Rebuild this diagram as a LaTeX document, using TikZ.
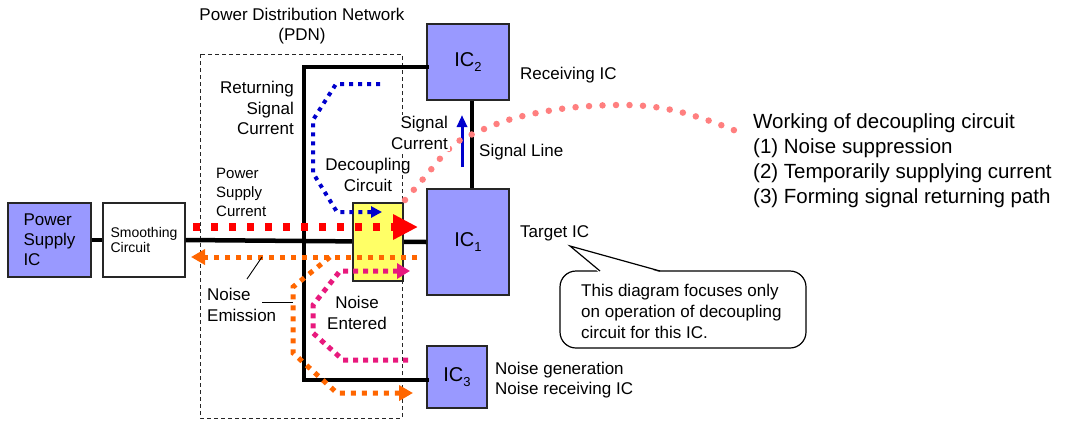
\documentclass[tikz,border=0pt]{standalone}
\usepackage{fontspec}
\setmainfont{Liberation Sans}
\usetikzlibrary{arrows.meta}
\definecolor{icblue}{HTML}{9999FF}
\definecolor{decyel}{HTML}{FFFF66}
\definecolor{sigblue}{HTML}{0000CC}
\definecolor{noiseor}{HTML}{FF6600}
\definecolor{noisemag}{HTML}{E8197D}
\definecolor{dotpink}{HTML}{FF7F7F}
\begin{document}
\begin{tikzpicture}[x=1pt,y=-1pt,
  icbox/.style={draw=black!85, line width=1.3pt, fill=icblue, inner sep=0pt},
  whitebox/.style={draw=black!85, line width=1.3pt, fill=white, inner sep=0pt},
  txt/.style={font=\fontsize{17}{20.5}\selectfont, inner sep=0pt},
  smalltxt/.style={font=\fontsize{15}{19}\selectfont, inner sep=0pt},
  ictxt/.style={font=\fontsize{20}{22}\selectfont},
  wire/.style={line width=4.5pt, black},
  pdn/.style={line width=0.8pt, dash pattern=on 4pt off 3pt, black!85},
  redflow/.style={line width=8pt, red, dash pattern=on 7pt off 11pt, -{Triangle[length=25pt,width=24pt]}},
  blueflow/.style={line width=4pt, sigblue, dash pattern=on 4pt off 5pt, -{Triangle[length=11pt,width=11pt]}},
  orflow/.style={line width=5pt, noiseor, dash pattern=on 5pt off 6pt, -{Triangle[length=14pt,width=15pt]}},
  magflow/.style={line width=5pt, noisemag, dash pattern=on 5pt off 5pt, -{Triangle[length=13pt,width=15pt]}},
  leader/.style={line width=0.9pt, black}]
\useasboundingbox (0,0) rectangle (1066,421);

% PDN dashed frame
\draw[pdn] (200,54) rectangle (402,418);

% boxes
\node[icbox, minimum width=83pt, minimum height=74pt, align=left, font=\fontsize{17}{20}\selectfont] (psic) at (49.5,240) {Power\\Supply\\IC};
\node[whitebox, minimum width=82pt, minimum height=74pt, align=left, font=\fontsize{14}{15.5}\selectfont] (smooth) at (144,240) {Smoothing\\Circuit};
\node[icbox, minimum width=82pt, minimum height=76pt, ictxt] (ic2) at (468,62) {IC\raisebox{-0.45ex}{\fontsize{13}{13}\selectfont 2}};
\node[icbox, minimum width=82pt, minimum height=106pt, ictxt] (ic1) at (468,242) {IC\raisebox{-0.45ex}{\fontsize{13}{13}\selectfont 1}};
\node[icbox, minimum width=60pt, minimum height=62pt, ictxt] (ic3) at (457,377) {IC\raisebox{-0.45ex}{\fontsize{13}{13}\selectfont 3}};

% wiring
\coordinate (tl) at (304,67);
\coordinate (bl) at (304,380);
\draw[wire] (psic.east) -- (smooth.west);
\draw[wire] (smooth.east) -- (ic1.west);
\draw[wire, line cap=rect] (tl -| ic2.west) -- (tl) -- (bl) -- (bl -| ic3.west);
\draw[line width=4pt] (ic2.south -| 472,0) -- (ic1.north -| 472,0);

% decoupling circuit
\node[draw=black!85, line width=1.3pt, fill=decyel, minimum width=50pt, minimum height=78pt, inner sep=0pt] (dec) at (378,242) {};

% flows
\draw[redflow] (193,227) -- (418,227);
\draw[blueflow] (380,84) -- (336,84) -- (313,120) -- (313,173) -- (337,212) -- (382,212);
\draw[orflow] (417,257) -- (191,257);
\draw[orflow] (330,257) -- (293,287) -- (293,353) -- (337,393) -- (413,393);
\draw[magflow] (408,360) -- (343,360) -- (313,333) -- (313,305) -- (340,271) -- (410,271);
\draw[line width=3pt, sigblue, -{Triangle[length=12pt,width=10pt]}] (462,167) -- (462,115);

% pink dotted curve
\draw[dotpink, line width=6.5pt, line cap=round, dash pattern=on 0pt off 13.5pt]
  plot[smooth, tension=0.6] coordinates {(405,200) (424,178) (451,147) (475,133) (515,118) (568,108) (625,105) (667,109) (707,120) (746,135)};

% labels
\node[txt, align=center] (pdnlbl) at (302,26) {Power Distribution Network\\(PDN)};
\node[txt, anchor=west] (recv) at (520,75) {Receiving IC};
\node[txt, align=right, anchor=east] (ret) at (294,108) {Returning\\Signal\\Current};
\node[txt, align=right, anchor=east, fill=white, inner sep=2pt] (sigcur) at (450,133) {Signal\\Current};
\node[txt, anchor=west] (sigline) at (479,152) {Signal Line};
\node[txt, align=center] (declbl) at (368,175) {Decoupling\\Circuit};
\node[smalltxt, align=left, anchor=west] (pscur) at (216,192) {Power\\Supply\\Current};
\node[txt, align=left, anchor=west] (nemis) at (207,305) {Noise\\Emission};
\node[txt, align=center] (nent) at (357,313) {Noise\\Entered};
\node[txt, anchor=west] (target) at (520,233) {Target IC};
\node[txt, align=left, anchor=west, font=\fontsize{17}{19.5}\selectfont] (ngen) at (495,380) {Noise generation\\Noise receiving IC};
\node[align=left, anchor=west, inner sep=0pt, font=\fontsize{20.5}{25}\selectfont] (work) at (753,160.5) {Working of decoupling circuit\\(1) Noise suppression\\(2) Temporarily supplying current\\(3) Forming signal returning path};

% noise emission leaders
\coordinate (le1) at (247,279);
\coordinate (le2) at (262,257);
\coordinate (le3) at (262,302);
\coordinate (le4) at (293,302);
\draw[leader] (le1) -- (le2);
\draw[leader] (le3) -- (le4);

% callout
\node[draw=black, line width=1.2pt, fill=white, rounded corners=16pt, minimum width=246pt, minimum height=77pt] (call) at (683,309.5) {};
\coordinate (ctip) at (570,246);
\fill[white] (599,272.5) -- (ctip) -- (661,272.5) -- cycle;
\draw[line width=1.2pt, line join=miter] (600,271) -- (ctip) -- (660,271);
\node[txt, align=left, anchor=west, font=\fontsize{17}{21}\selectfont] (calltxt) at (581,311) {This diagram focuses only\\on operation of decoupling\\circuit for this IC.};
\end{tikzpicture}
\end{document}
